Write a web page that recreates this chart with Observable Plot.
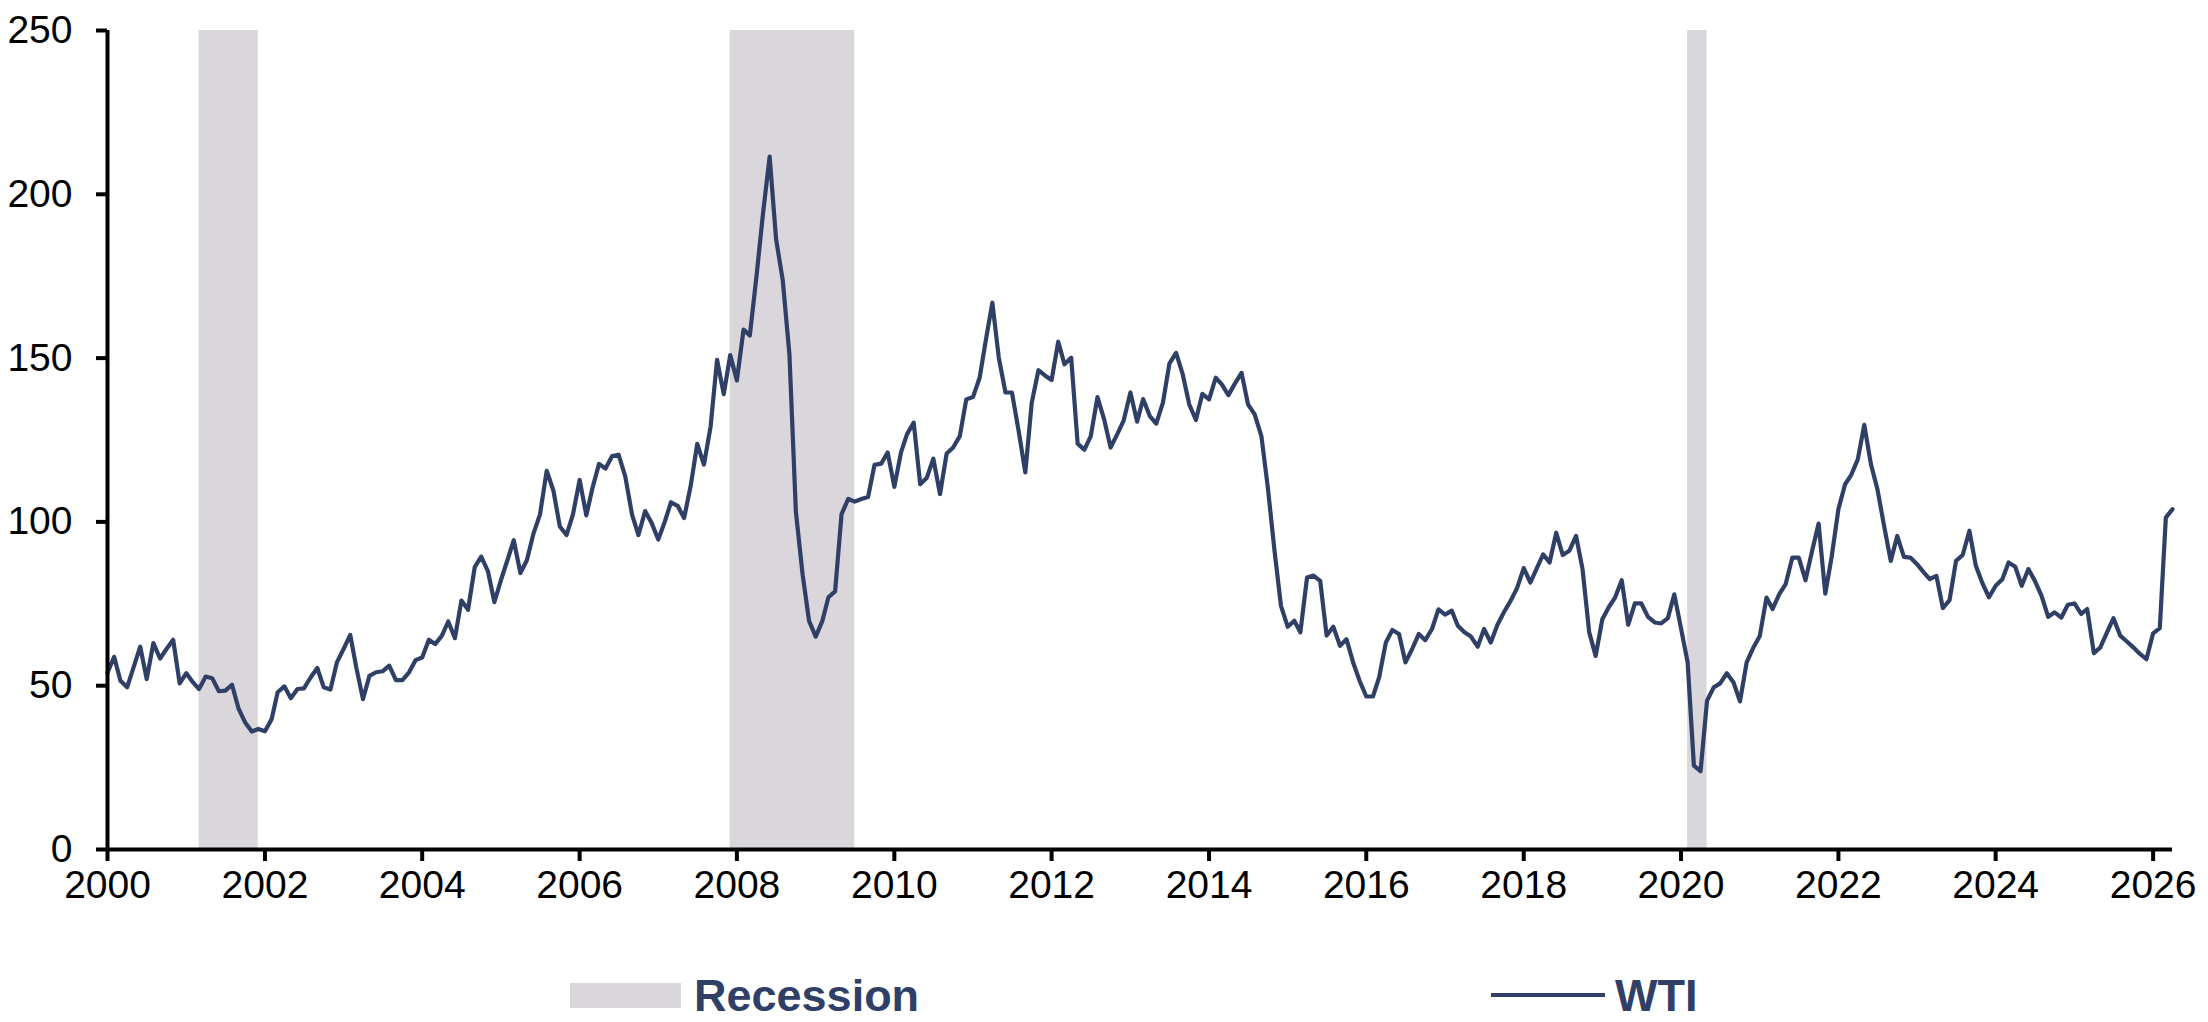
<!DOCTYPE html>
<html>
<head>
<meta charset="utf-8">
<script src="https://cdn.jsdelivr.net/npm/d3@7"></script>
<script src="https://cdn.jsdelivr.net/npm/@observablehq/plot@0.6"></script>
<style>
  html, body { margin: 0; padding: 0; background: #fff; }
  body { width: 2208px; height: 1022px; overflow: hidden; font-family: "Liberation Sans", Arial, sans-serif; }
  #chart svg g[aria-label="x-axis tick"], #chart svg g[aria-label="y-axis tick"] { stroke-width: 4px; }
  #legend { position: relative; width: 2208px; height: 82px; }
  .item { position: absolute; top: 30px; height: 50px; display: flex; align-items: center; }
  .item span { font: bold 45px/1 "Liberation Sans", Arial, sans-serif; color: #2f3f66; }
  .swatch { width: 111px; height: 25px; background: #d9d7db; margin-right: 13px; }
  .stroke { width: 114px; height: 4.5px; background: #2f3f66; margin-right: 10px; }
</style>
</head>
<body>
<div id="chart"></div>
<div id="legend">
  <div class="item" style="left:570px"><div class="swatch"></div><span>Recession</span></div>
  <div class="item" style="left:1491px"><div class="stroke"></div><span>WTI</span></div>
</div>
<script>
// Monthly WTI price series, first value is January 2000
const firstMonth = [2000, 0];
const wti2000s = [
  54, 58.8, 51.5, 49.5, 55.6, 61.9, 52, 63, 58.3, 61.2, 64, 50.7,
  53.8, 51, 49, 52.8, 52.3, 48.3, 48.5, 50.3, 42.9, 38.8, 36, 36.8,
  36.1, 39.8, 48, 49.8, 46.2, 49, 49.2, 52.5, 55.4, 49.5, 48.8, 57.1,
  61.2, 65.5, 55.6, 45.9, 53, 54.1, 54.4, 56.1, 51.7, 51.7, 54.1, 57.8,
  58.6, 64, 62.7, 65.2, 69.6, 64.5, 76, 73.2, 86.2, 89.4, 85, 75.5,
  82.3, 88.6, 94.4, 84.4, 88.3, 96.5, 102.3, 115.6, 109.6, 98.6, 96, 102.3,
  112.8, 102, 110.2, 117.7, 116.3, 120.1, 120.5, 113.8, 102.3, 96, 103.3, 99.7,
  94.6, 100.2, 106, 104.9, 101.2, 111.2, 123.8, 117.5, 129.1, 149.5, 139, 150.9,
  143.2, 158.7, 156.9, 175, 194, 211.5, 186.3, 173.7, 151.1, 103, 84, 69.8,
  65, 69.8, 77, 78.8, 102.4, 107, 106.2, 107, 107.6, 117.4, 117.8, 121.2
];
const wti2010s = [
  110.7, 121.2, 126.8, 130.3, 111.5, 113.5, 119.3, 108.5, 120.9, 122.7, 126.2, 137.4,
  138.1, 144, 155.2, 166.9, 150.1, 139.5, 139.5, 127.8, 115.1, 136.4, 146.3, 144.7,
  143.3, 155, 148.1, 150.1, 123.9, 122, 126.2, 138.1, 131.3, 122.7, 126.8, 131,
  139.5, 130.6, 137.5, 132.3, 130, 136.4, 148.3, 151.6, 145, 135.9, 131.1, 139.1,
  137.4, 144, 142, 138.7, 142.2, 145.5, 135.9, 132.8, 126.2, 110.5, 91.2, 74.4,
  68, 69.8, 66.3, 83, 83.6, 82, 65.3, 68, 62.2, 64.2, 57.1, 51.5,
  46.7, 46.7, 52.6, 63.2, 67, 65.8, 57.1, 61.2, 65.8, 63.9, 67.3, 73.3,
  71.7, 72.9, 68.3, 66.3, 65, 61.9, 67.3, 63.2, 68.6, 72.4, 75.9, 79.8,
  85.9, 81.5, 85.6, 90.1, 87.6, 96.7, 89.9, 91.2, 95.7, 85.6, 66.3, 59.1,
  70.3, 74.1, 76.9, 82.2, 68.6, 75.1, 75.1, 71, 69.3, 69, 70.6, 77.9
];
const wti2020s = [
  67.6, 57.1, 25.6, 23.9, 45.4, 49.5, 50.7, 53.8, 51, 45.2, 57.1, 61.5,
  65.2, 76.9, 73.4, 77.9, 81, 89.1, 89.1, 82.2, 91.2, 99.5, 78.1, 89.5,
  103.9, 111.5, 114.3, 119.1, 129.6, 117.6, 110, 98.8, 88.1, 95.7, 89.3, 89.1,
  87.1, 84.6, 82.5, 83.5, 73.7, 76.1, 88.1, 89.9, 97.3, 86.6, 81.2, 77,
  80.5, 82.5, 87.6, 86.3, 80.5, 85.6, 82, 77.4, 71, 72.4, 70.8, 74.7,
  75.1, 71.9, 73.4, 59.9, 61.7, 66.3, 70.6, 65.3, 63.5, 61.7, 59.7, 58.1,
  66, 67.6, 101.3, 103.9
];

// NBER recession periods: [first month, month after the last]
const recessionStarts = ["2001-03-01", "2007-12-01", "2020-02-01"];
const recessionEnds   = ["2001-12-01", "2009-07-01", "2020-05-01"];

const yTicks = [0, 50, 100, 150, 200, 250];
const xTickYears = [2000, 2002, 2004, 2006, 2008, 2010, 2012, 2014, 2016, 2018, 2020, 2022, 2024, 2026];

const start = new Date(Date.UTC(firstMonth[0], firstMonth[1], 1));
const series = [...wti2000s, ...wti2010s, ...wti2020s].map((value, i) => ({
  date: d3.utcMonth.offset(start, i),
  value
}));
const end = series[series.length - 1].date;

const recessions = recessionStarts.map((s, i) => ({
  start: new Date(s + "T00:00:00Z"),
  end: new Date(recessionEnds[i] + "T00:00:00Z")
}));
const xTicks = xTickYears.map(y => new Date(Date.UTC(y, 0, 1)));

const navy = "#2f3f66";

const chart = Plot.plot({
  width: 2208,
  height: 940,
  marginLeft: 107,
  marginRight: 36,
  marginTop: 30,
  marginBottom: 91,
  style: { fontFamily: "'Liberation Sans', Arial, sans-serif", color: "#000", background: "#fff", overflow: "visible" },
  x: { type: "utc", domain: [start, end] },
  y: { domain: [0, 250] },
  marks: [
    Plot.rect(recessions, { x1: "start", x2: "end", y1: 0, y2: 250, fill: "#d9d7db" }),
    Plot.lineY(series, { x: "date", y: "value", stroke: navy, strokeWidth: 4.2, strokeLinejoin: "round" }),
    Plot.ruleY([0], { stroke: "#000", strokeWidth: 4 }),
    Plot.ruleX([start], { y1: 0, y2: 250, stroke: "#000", strokeWidth: 4 }),
    Plot.axisY({ ticks: yTicks, tickSize: 11, tickPadding: 24, fontSize: 39, label: null, stroke: "#000", strokeWidth: 4, tickFormat: d => String(d) }),
    Plot.axisX({ ticks: xTicks, tickSize: 12, tickPadding: 9, fontSize: 39, label: null, stroke: "#000", strokeWidth: 4, tickFormat: d => String(d.getUTCFullYear()) })
  ]
});
document.getElementById("chart").append(chart);
</script>
</body>
</html>
